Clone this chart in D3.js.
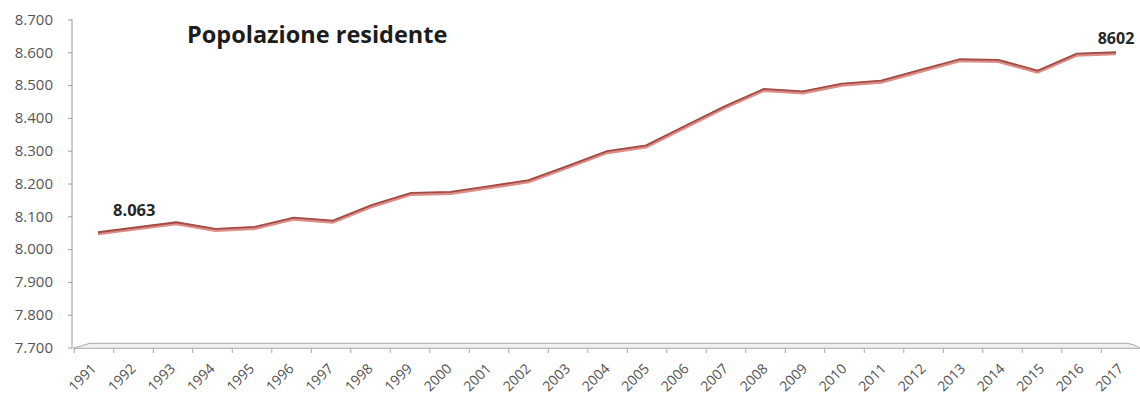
<!DOCTYPE html>
<html>
<head>
<meta charset="utf-8">
<script src="https://cdn.jsdelivr.net/npm/d3@7"></script>
<style>
  html, body { margin: 0; padding: 0; background: #fff; }
  svg { display: block; }
  text { font-family: "Open Sans", "Noto Sans", sans-serif; }
</style>
</head>
<body>
<svg id="chart" width="1140" height="396"></svg>
<script>
// Residents per year
const years = ["1991","1992","1993","1994","1995","1996","1997","1998","1999","2000",
               "2001","2002","2003","2004","2005","2006","2007","2008","2009","2010",
               "2011","2012","2013","2014","2015","2016","2017"];
const population = [8063, 8078, 8093, 8073, 8079, 8107, 8098, 8145, 8181, 8184,
                    8201, 8219, 8262, 8306, 8323, 8382, 8440, 8492, 8485, 8508,
                    8517, 8549, 8581, 8579, 8547, 8598, 8602];
const yTicks = [7700, 7800, 7900, 8000, 8100, 8200, 8300, 8400, 8500, 8600, 8700];
const title = "Popolazione residente";
const firstLabel = "8.063";
const lastLabel = "8602";

const svg = d3.select("#chart");
const it = d3.formatLocale({ decimal: ",", thousands: ".", grouping: [3], currency: ["€", ""] });
const fmt = it.format(",d");

// Axis scales (back wall / floor)
const x = d3.scaleBand().domain(years).range([74.3, 1140.8]);
const y = d3.scaleLinear().domain([7700, 8700]).range([347.5, 19.5]);

// The 3D ribbon sits slightly in front of the wall, so its projection is a bit larger
const xSeries = d3.scalePoint().domain(years).range([98, 1116]);
const ySeries = d3.scaleLinear().domain([7700, 8700]).range([354, 20]);

// Floor of the 3D plot
const floor = svg.append("g");
floor.append("path")
  .attr("d", "M73,348.3 L90,343.3 L1127,343.3 Q1134,343.6 1140,348.3 Z")
  .attr("fill", "#f1f1f1")
  .attr("stroke", "#a9a9a9")
  .attr("stroke-width", 1);

// Y axis
const yAxis = svg.append("g")
  .attr("transform", "translate(72,0)")
  .call(d3.axisLeft(y).tickValues(yTicks).tickFormat(fmt).tickSize(4).tickPadding(15));
yAxis.select(".domain").attr("stroke", "#9c9c9c").attr("d", "M0,19V348");
yAxis.selectAll(".tick line").attr("stroke", "#9c9c9c");
yAxis.selectAll(".tick text")
  .attr("fill", "#555")
  .style("font-size", "15px")
  .style("font-family", "'Open Sans', sans-serif");

// X axis ticks at category boundaries
const xg = svg.append("g");
xg.selectAll("line.xt")
  .data(years)
  .join("line")
  .attr("class", "xt")
  .attr("x1", d => x(d))
  .attr("x2", d => x(d))
  .attr("y1", 348.3)
  .attr("y2", 353)
  .attr("stroke", "#a9a9a9");

xg.selectAll("text.xl")
  .data(years)
  .join("text")
  .attr("class", "xl")
  .attr("transform", d => `translate(${x(d) + x.bandwidth() / 2 + 3},369.5) rotate(-45)`)
  .attr("text-anchor", "end")
  .attr("fill", "#505050")
  .style("font-size", "14px")
  .text(d => d);

// Series ribbon
const pts = years.map((yr, i) => [xSeries(yr), ySeries(population[i])]);
const line = d3.line();
svg.append("path")
  .attr("d", line(pts))
  .attr("transform", "translate(0,0.9)")
  .attr("fill", "none")
  .attr("stroke", "#dc8d86")
  .attr("stroke-width", 3.4)
  .attr("stroke-linejoin", "round");
svg.append("path")
  .attr("d", line(pts))
  .attr("transform", "translate(0,-0.5)")
  .attr("fill", "none")
  .attr("stroke", "#a34a45")
  .attr("stroke-width", 1.8)
  .attr("stroke-linejoin", "round");

// Title
svg.append("text")
  .attr("x", 187)
  .attr("y", 43)
  .attr("fill", "#1c1c1c")
  .style("font-size", "23.5px")
  .style("font-weight", "bold")
  .text(title);

// Value labels on first and last points
svg.append("text")
  .attr("x", xSeries(years[0]) + 15)
  .attr("y", ySeries(population[0]) - 17)
  .attr("fill", "#262626")
  .style("font-size", "16.5px")
  .style("font-weight", "bold")
  .text(firstLabel);

svg.append("text")
  .attr("x", xSeries(years[years.length - 1]))
  .attr("y", ySeries(population[population.length - 1]) - 9)
  .attr("text-anchor", "middle")
  .attr("fill", "#262626")
  .style("font-size", "16px")
  .style("font-weight", "bold")
  .text(lastLabel);
</script>
</body>
</html>
